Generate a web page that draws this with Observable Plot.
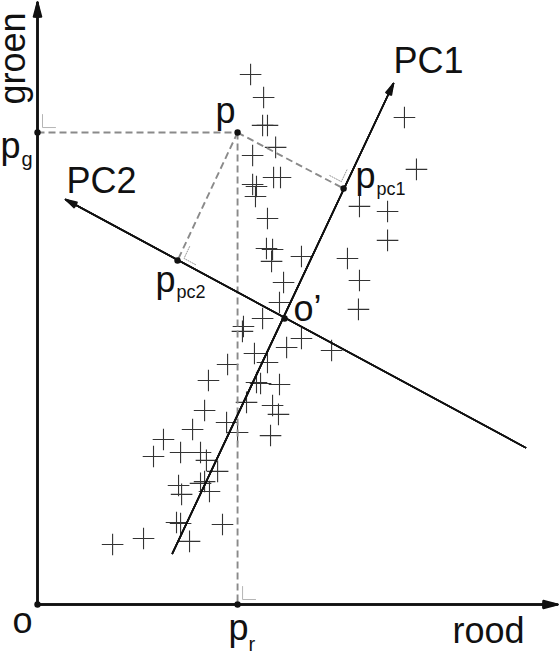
<!DOCTYPE html>
<html><head><meta charset="utf-8">
<script src="https://cdn.jsdelivr.net/npm/d3@7"></script>
<script src="https://cdn.jsdelivr.net/npm/@observablehq/plot@0.6"></script>
<style>html,body{margin:0;padding:0;background:#fff;}</style>
</head><body><div id="chart"></div>
<script>
// Scatter of samples: red (rood) and green (groen) values
const rood = [104.7,111.1,110.6,113.0,117.0,105.7,116.0,119.4,105.7,107.6,107.1,180.3,186.2,158.2,172.0,113.0,112.5,115.5,115.0,129.7,152.3,172.0,120.9,158.2,118.9,157.7,110.6,101.2,100.7,129.7,122.4,144.5,106.6,113.0,93.4,84.0,107.6,109.6,118.9,102.7,82.1,115.5,118.4,92.9,76.2,98.3,114.5,61.9,57.0,70.3,80.1,83.0,88.5,69.3,70.8,80.1,82.1,84.5,68.3,70.3,90.9,36.9,52.1,74.7];
const groen = [260.4,249.1,235.4,235.4,224.6,220.6,209.8,209.8,206.4,205.4,200.5,239.3,213.8,195.6,193.1,189.7,174.9,174.4,168.6,171.0,170.0,178.9,158.2,159.2,148.4,145.0,140.5,136.6,134.2,130.7,126.3,124.8,123.3,118.9,117.9,110.1,109.1,108.6,108.1,99.3,95.3,97.8,93.4,89.4,86.0,84.5,83.0,81.1,72.7,74.7,74.7,70.8,65.4,58.5,54.1,59.5,60.4,55.5,40.3,39.8,39.3,29.5,32.4,31.0];

// Axis extents
const axisMax = {rood: 255.5, groen: 295.8};
// Special points
const origin = {rood: 0, groen: 0};
const p = {rood: 98.3, groen: 231.9};
const pG = {rood: 0, groen: p.groen};
const pR = {rood: p.rood, groen: 0};
const oPrime = {rood: 121.4, groen: 140.5};
const pPc1 = {rood: 150.4, groen: 204.4};
const pPc2 = {rood: 68.8, groen: 169.0};
// Principal component axes: [tail, head]
const pc1Ends = [{rood: 66.3, groen: 25.1}, {rood: 174.9, groen: 256.0}];
const pc2Ends = [{rood: 239.8, groen: 77.1}, {rood: 13.8, groen: 199.0}];

const pts = rood.map((r, i) => ({rood: r, groen: groen[i]}));
const PX = 2.035; // pixels per data unit (equal on both axes)

function seg(a, b) { return {x1: a.rood, y1: a.groen, x2: b.rood, y2: b.groen}; }
function unit(a, b) { const dx = b.rood - a.rood, dy = b.groen - a.groen, l = Math.hypot(dx, dy); return [dx / l, dy / l]; }
function corner(anchor, ta, tb, offPx, armPx) {
  const ua = unit(anchor, ta), ub = unit(anchor, tb);
  const o = offPx / PX, a = armPx / PX;
  const c = {rood: anchor.rood + o * (ua[0] + ub[0]), groen: anchor.groen + o * (ua[1] + ub[1])};
  return [
    {rood: c.rood + a * ua[0], groen: c.groen + a * ua[1]},
    c,
    {rood: c.rood + a * ub[0], groen: c.groen + a * ub[1]}
  ];
}
function solidArrow(s, opts) {
  return [30, 20, 10, 4].map(h => Plot.arrow([s], {x1: "x1", y1: "y1", x2: "x2", y2: "y2", headAngle: h, bend: 0, ...opts}));
}
function label(anchor, t, size, dx, dy, extra = {}) {
  return Plot.text([anchor], {x: "rood", y: "groen", text: () => t, fontSize: size, dx, dy, textAnchor: "start", lineAnchor: "bottom", fill: "#111", ...extra});
}

const dashStyle = {stroke: "#8a8a8a", strokeWidth: 1.9, strokeDasharray: "7,4"};

const chart = Plot.plot({
  width: 560, height: 653,
  marginLeft: 37, marginRight: 3, marginTop: 2, marginBottom: 49,
  x: {domain: [0, axisMax.rood], axis: null},
  y: {domain: [0, axisMax.groen], axis: null},
  style: {fontFamily: "'Liberation Sans', Arial, sans-serif", background: "#fff"},
  marks: [
    // scatter
    Plot.dot(pts, {x: "rood", y: "groen", symbol: "plus", r: 7, stroke: "#333", strokeWidth: 1.1}),
    // dashed projection lines
    Plot.link([seg(pG, p), seg(p, pR), seg(p, pPc1), seg(p, pPc2)], {x1: "x1", y1: "y1", x2: "x2", y2: "y2", ...dashStyle}),
    // right-angle marks
    Plot.line(corner(pG, {rood: 0, groen: axisMax.groen}, p, 5, 13), {x: "rood", y: "groen", stroke: "#b5b5b5", strokeWidth: 1}),
    Plot.line(corner(pR, p, {rood: axisMax.rood, groen: 0}, 5, 13), {x: "rood", y: "groen", stroke: "#b5b5b5", strokeWidth: 1}),
    Plot.line(corner(pPc1, p, pc1Ends[1], 5, 13), {x: "rood", y: "groen", stroke: "#777", strokeWidth: 0.8, strokeDasharray: "1,1.5"}),
    Plot.line(corner(pPc2, p, oPrime, 5, 13), {x: "rood", y: "groen", stroke: "#777", strokeWidth: 0.8, strokeDasharray: "1,1.5"}),
    // axes
    ...solidArrow(seg(origin, {rood: 0, groen: axisMax.groen}), {stroke: "#111", strokeWidth: 2, headLength: 11}),
    ...solidArrow(seg(origin, {rood: axisMax.rood, groen: 0}), {stroke: "#111", strokeWidth: 2, headLength: 11}),
    // principal components
    ...solidArrow(seg(pc1Ends[0], pc1Ends[1]), {stroke: "#111", strokeWidth: 1.6, headLength: 11}),
    ...solidArrow(seg(pc2Ends[0], pc2Ends[1]), {stroke: "#111", strokeWidth: 1.6, headLength: 11}),
    // key points
    Plot.dot([origin, pG, pR, p, oPrime, pPc1, pPc2], {x: "rood", y: "groen", r: 3.2, fill: "#111", stroke: "none"}),
    // labels
    Plot.text([{rood: 0, groen: axisMax.groen}], {x: "rood", y: "groen", text: () => "groen", rotate: -90, fontSize: 36, dx: -13, dy: 56, textAnchor: "middle", lineAnchor: "bottom", fill: "#111"}),
    label({rood: axisMax.rood, groen: 0}, "rood", 36, -105, 38),
    label(origin, "o", 36, -25, 28),
    label(pR, "p", 36, -9, 35),
    label(pR, "r", 20, 11, 46),
    label(pG, "p", 36, -37, 25),
    label(pG, "g", 20, -16, 33),
    label(p, "p", 36, -22, -10),
    label(pc1Ends[1], "PC1", 36, 0, -10),
    label(pc2Ends[1], "PC2", 36, 1, -7),
    label(pPc1, "p", 36, 12, -1),
    label(pPc1, "pc1", 18, 33, 6),
    label(pPc2, "p", 36, -22, 31),
    label(pPc2, "pc2", 18, -1, 37),
    label(oPrime, "o\u2019", 36, 9, 2)
  ]
});
document.getElementById("chart").appendChild(chart);
</script>
</body></html>
